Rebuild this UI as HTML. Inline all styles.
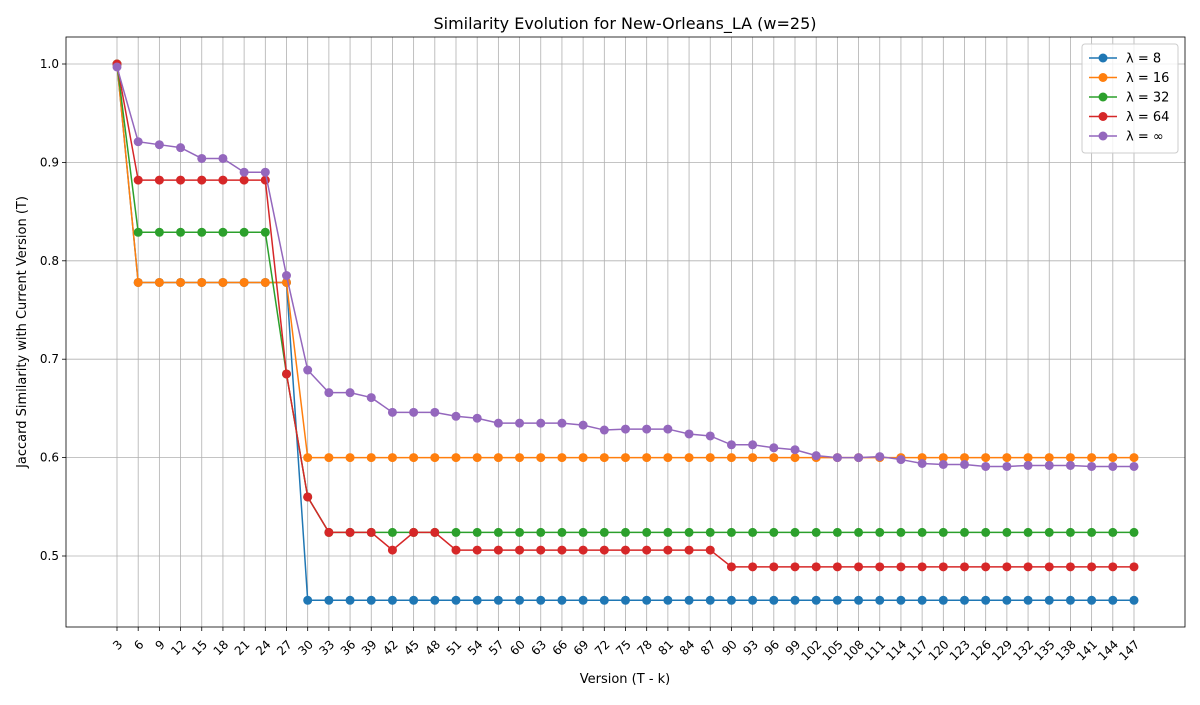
<!DOCTYPE html>
<html><head><meta charset="utf-8"><style>body{margin:0;background:#fff}svg text{font-family:"DejaVu Sans","Liberation Sans",sans-serif}</style></head>
<body>
<svg id="chart" width="1200" height="700" xmlns="http://www.w3.org/2000/svg">
<rect width="1200" height="700" fill="#fff"/>
<text x="625" y="29" font-size="16" text-anchor="middle">Similarity Evolution for New-Orleans_LA (w=25)</text>
<g id="grid"></g><g id="series"></g><g id="axes"></g>
<text x="625" y="683" font-size="13" text-anchor="middle">Version (T - k)</text>
<text transform="translate(26,332) rotate(-90)" font-size="13" text-anchor="middle">Jaccard Similarity with Current Version (T)</text>
<g id="legend"></g>
</svg>
<script>
const categories=[3,6,9,12,15,18,21,24,27,30,33,36,39,42,45,48,51,54,57,60,63,66,69,72,75,78,81,84,87,90,93,96,99,102,105,108,111,114,117,120,123,126,129,132,135,138,141,144,147];
const lambda8=[1.0,0.778,0.778,0.778,0.778,0.778,0.778,0.778,0.778,0.455,0.455,0.455,0.455,0.455,0.455,0.455,0.455,0.455,0.455,0.455,0.455,0.455,0.455,0.455,0.455,0.455,0.455,0.455,0.455,0.455,0.455,0.455,0.455,0.455,0.455,0.455,0.455,0.455,0.455,0.455,0.455,0.455,0.455,0.455,0.455,0.455,0.455,0.455,0.455];
const lambda16=[1.0,0.778,0.778,0.778,0.778,0.778,0.778,0.778,0.778,0.6,0.6,0.6,0.6,0.6,0.6,0.6,0.6,0.6,0.6,0.6,0.6,0.6,0.6,0.6,0.6,0.6,0.6,0.6,0.6,0.6,0.6,0.6,0.6,0.6,0.6,0.6,0.6,0.6,0.6,0.6,0.6,0.6,0.6,0.6,0.6,0.6,0.6,0.6,0.6];
const lambda32=[1.0,0.829,0.829,0.829,0.829,0.829,0.829,0.829,0.685,0.56,0.524,0.524,0.524,0.524,0.524,0.524,0.524,0.524,0.524,0.524,0.524,0.524,0.524,0.524,0.524,0.524,0.524,0.524,0.524,0.524,0.524,0.524,0.524,0.524,0.524,0.524,0.524,0.524,0.524,0.524,0.524,0.524,0.524,0.524,0.524,0.524,0.524,0.524,0.524];
const lambda64=[1.0,0.882,0.882,0.882,0.882,0.882,0.882,0.882,0.685,0.56,0.524,0.524,0.524,0.506,0.524,0.524,0.506,0.506,0.506,0.506,0.506,0.506,0.506,0.506,0.506,0.506,0.506,0.506,0.506,0.489,0.489,0.489,0.489,0.489,0.489,0.489,0.489,0.489,0.489,0.489,0.489,0.489,0.489,0.489,0.489,0.489,0.489,0.489,0.489];
const lambdaInf=[0.997,0.921,0.918,0.915,0.904,0.904,0.890,0.890,0.785,0.689,0.666,0.666,0.661,0.646,0.646,0.646,0.642,0.640,0.635,0.635,0.635,0.635,0.633,0.628,0.629,0.629,0.629,0.624,0.622,0.613,0.613,0.610,0.608,0.602,0.600,0.600,0.601,0.598,0.594,0.593,0.593,0.591,0.591,0.592,0.592,0.592,0.591,0.591,0.591];
const yTicks=[0.5,0.6,0.7,0.8,0.9,1.0];
const seriesNames=["λ = 8","λ = 16","λ = 32","λ = 64","λ = ∞"];
const colors=["#1f77b4","#ff7f0e","#2ca02c","#d62728","#9467bd"];
const allSeries=[lambda8,lambda16,lambda32,lambda64,lambdaInf];
const L=66,R=1185,T=37,B=627;
const xs=i=>117+i*(1134-117)/(categories.length-1);
const ys=v=>64+(1-v)*984;
const NS="http://www.w3.org/2000/svg";
function mk(tag,attrs,parent){const e=document.createElementNS(NS,tag);for(const k in attrs)e.setAttribute(k,attrs[k]);parent.appendChild(e);return e;}
const grid=document.getElementById('grid'),axes=document.getElementById('axes'),ser=document.getElementById('series'),leg=document.getElementById('legend');
categories.forEach((c,i)=>{const x=xs(i);
 const g=mk('line',{x1:x,x2:x,y1:T,y2:B,stroke:'#b0b0b0','stroke-width':0.8},grid);
 
 mk('line',{x1:x,x2:x,y1:B,y2:B+4,stroke:'#000','stroke-width':0.8},axes);
 const t=mk('text',{x:x,y:B+12,'font-size':12,'text-anchor':'end',transform:`rotate(-45 ${x} ${B+12})`,'dominant-baseline':'hanging'},axes);
 t.textContent=c;});
yTicks.forEach(v=>{const y=ys(v);
 const g=mk('line',{x1:L,x2:R,y1:y,y2:y,stroke:'#b0b0b0','stroke-width':0.8},grid);
 
 mk('line',{x1:L-4,x2:L,y1:y,y2:y,stroke:'#000','stroke-width':0.8},axes);
 const t=mk('text',{x:L-7,y:y+4,'font-size':12,'text-anchor':'end'},axes);
 t.textContent=v.toFixed(1);});
const fr=mk('rect',{x:L,y:T,width:R-L,height:B-T,fill:'none',stroke:'#000','stroke-width':0.8},axes);

allSeries.forEach((s,k)=>{const g=mk('g',{},ser);
 
 const p=mk('polyline',{points:s.map((v,i)=>xs(i)+','+ys(v)).join(' '),fill:'none',stroke:colors[k],'stroke-width':1.5},g);
 
 s.forEach((v,i)=>{const c=mk('circle',{cx:xs(i),cy:ys(v),r:4.5,fill:colors[k]},g);
  });});
const lb=mk('rect',{x:1082,y:44,width:96,height:109,rx:3,fill:'#fff',stroke:'#ccc','fill-opacity':0.8},leg);

seriesNames.forEach((n,k)=>{const y=58+k*19.5;const g=mk('g',{},leg);
 
 mk('line',{x1:1089,x2:1117,y1:y,y2:y,stroke:colors[k],'stroke-width':1.5},g);
 mk('circle',{cx:1103,cy:y,r:4.5,fill:colors[k]},g);
 const t=mk('text',{x:1126,y:y+4.5,'font-size':13},g);t.textContent=n;});
</script>
</body></html>
